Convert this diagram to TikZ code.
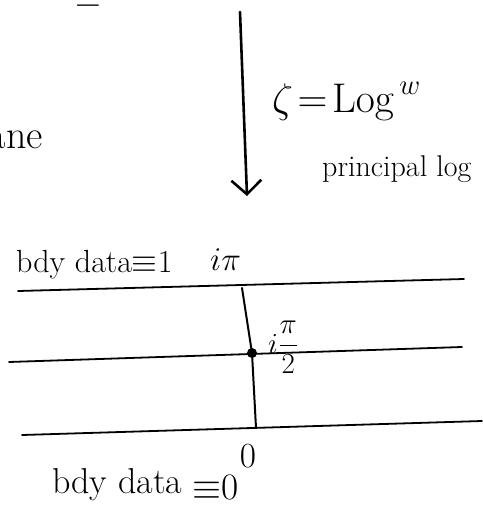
\documentclass[tikz,border=0pt]{standalone}
\usepackage{amsmath}
\usepackage{graphicx}
\usetikzlibrary{arrows.meta}
\newcommand{\bigmath}[2]{\scalebox{#1}{\fontsize{20}{24}\selectfont$#2$}}
\begin{document}
\begin{tikzpicture}[x=1pt,y=-1pt,
  ink/.style={line width=2pt,line cap=round,black},
  strip/.style={line width=1.8pt,line cap=round,black},
  hand/.style={inner sep=0pt,text=black},
  big/.style={hand,font=\fontsize{32}{36}\selectfont},
  bigger/.style={hand,font=\fontsize{36}{40}\selectfont},
  mid/.style={hand,font=\fontsize{40}{44}\selectfont},
  small/.style={hand,font=\fontsize{30}{34}\selectfont}]
\useasboundingbox (0,0) rectangle (482,506);
% fragments cut by the frame
\node[big,anchor=base] (frag) at (88,7) {\bigmath{1.6}{\equiv}};
\node[mid,anchor=base east] (plane) at (43,148) {plane};
% mapping arrow
\coordinate (atop) at (240,12);
\coordinate (abot) at (247,196);
\draw[line width=2.6pt,line cap=round,-{Straight Barb[length=14pt,width=30pt,line width=2.6pt]}] (atop) -- (abot);
\node[hand,anchor=base west] (map) at (272,112) {\bigmath{2}{\zeta\!=\!\mathrm{Log}^{\,w}}};
\node[small,anchor=base west] (pl) at (322,176) {principal log};
% strip
\coordinate (t1) at (18,291); \coordinate (t2) at (464,279);
\coordinate (m1) at (9,362);  \coordinate (m2) at (462,347);
\coordinate (b1) at (22,435); \coordinate (b2) at (482,421);
\draw[strip] (t1) -- (t2);
\draw[strip] (m1) -- (m2);
\draw[strip] (b1) -- (b2);
\coordinate (vt) at (242,288);
\coordinate (vm) at (252,353);
\coordinate (vb) at (256,428);
\draw[ink] (vt) -- (vm) -- (vb);
\fill (vm) circle (5pt) node (dot) {};
% labels
\node[big,anchor=base west] (bdy1) at (16,272) {bdy data\bigmath{1.6}{\equiv}1};
\node[hand,anchor=base west] (ipi) at (210,270) {\bigmath{1.6}{i\pi}};
\node[hand,anchor=west] (ihalf) at (268,347) {\bigmath{1.4}{i\dfrac{\pi}{2}}};
\node[hand,anchor=base] (zero) at (248,467) {\bigmath{1.7}{0}};
\node[bigger,anchor=base west] (bdy0) at (52,493) {bdy data};
\node[hand,anchor=base west] (eq0) at (192,499) {\bigmath{1.8}{\equiv}\bigmath{1.8}{\mathrm{0}}};
\end{tikzpicture}
\end{document}
